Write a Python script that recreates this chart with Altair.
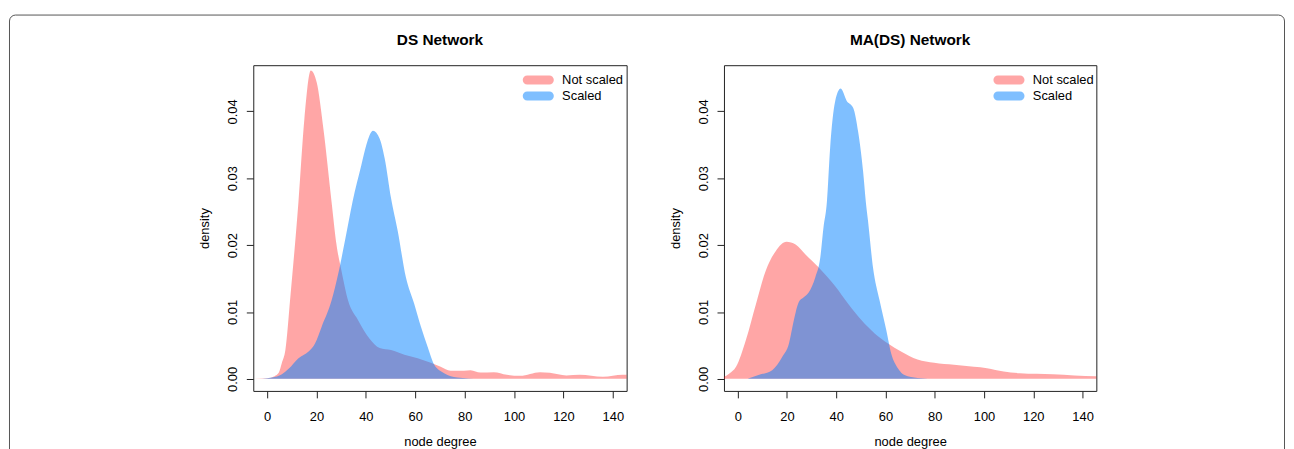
import altair as alt
import pandas as pd

# ---- data ----
series = ["Not scaled", "Scaled"]
titles = ["DS Network", "MA(DS) Network"]
x_ticks = [0, 20, 40, 60, 80, 100, 120, 140]
y_ticks = [0.0, 0.01, 0.02, 0.03, 0.04]

ds_not_x = [-8, 0, 3, 4.7, 6, 7.4, 9.4, 12.7, 15.1, 17.7, 20.1, 22.8, 26.1, 28.1, 30.1, 32.8, 36.8,
            41.5, 45.6, 50.2, 55.6, 61, 66.3, 70.3, 74.3, 79.7, 82.4, 86.4, 91.8, 97.1, 102.5,
            110.5, 114.5, 121.2, 126.6, 136, 144, 150]
ds_not_y = [0, 0.0001, 0.0004, 0.0009, 0.0024, 0.0043, 0.0122, 0.0265, 0.0389, 0.0461, 0.0443,
            0.0374, 0.0265, 0.0201, 0.0162, 0.0117, 0.0088, 0.0060, 0.0046, 0.0043, 0.0036,
            0.0031, 0.0024, 0.0018, 0.0012, 0.0012, 0.0013, 0.00094, 0.0010, 0.0006, 0.00045,
            0.0010, 0.0009, 0.0005, 0.0006, 0.0003, 0.0006, 0.0006]
ds_sc_x = [-2, 2, 6, 8.7, 12.7, 16.8, 19.4, 22.1, 26.1, 28.8, 31.5, 34.6, 38.2, 40.2, 42.9, 45.6,
           47.6, 50.2, 52.9, 56.2, 59.6, 62.3, 65, 67.7, 71.7, 77, 86]
ds_sc_y = [0, 0.0002, 0.0007, 0.0015, 0.0031, 0.0041, 0.0053, 0.0078, 0.0117, 0.0157, 0.0206,
           0.0265, 0.032, 0.035, 0.0371, 0.0359, 0.033, 0.027, 0.0221, 0.0152, 0.0112, 0.0078,
           0.0048, 0.0021, 0.00085, 0.0002, 0]

ma_not_x = [-8, -5.6, -3.4, -0.7, 3.3, 7.4, 11.4, 15.4, 19.8, 23.5, 27.5, 32.8, 39.5, 44.9, 50.2,
            55.6, 61, 66.3, 73, 79.8, 87.8, 95.9, 101.2, 108, 114.6, 128, 145.5, 150]
ma_not_y = [0.0001, 0.0003, 0.0008, 0.0018, 0.0058, 0.0112, 0.0162, 0.0191, 0.0205, 0.0201,
            0.0186, 0.0167, 0.0139, 0.0112, 0.0088, 0.0068, 0.0053, 0.0041, 0.0029, 0.0024,
            0.0021, 0.0018, 0.0016, 0.0011, 0.00085, 0.0007, 0.0004, 0.0004]
ma_sc_x = [4, 8.7, 14, 18.1, 20.8, 22.8, 24.8, 26.8, 28.8, 31.5, 33.5, 34.8, 36.2, 37.5, 39.5,
           41.8, 44.2, 46.9, 48.9, 50.9, 52.0, 52.9, 54.9, 57.6, 60.3, 62.3, 65, 69, 74.4, 80]
ma_sc_y = [0, 0.0006, 0.0013, 0.0033, 0.0053, 0.0088, 0.0115, 0.0122, 0.0129, 0.0152, 0.0181,
           0.0226, 0.0265, 0.0345, 0.0414, 0.0434, 0.0416, 0.0405, 0.0369, 0.031, 0.0265,
           0.0236, 0.0167, 0.0117, 0.0073, 0.0038, 0.0016, 0.0004, 0.0001, 0]

FONT = "Liberation Sans"
W, H = 376, 328
LEG_PATH = ("M -1.586,-0.65 L 1.586,-0.65 A 0.65,0.65 0 0 1 1.586,0.65 "
            "L -1.586,0.65 A 0.65,0.65 0 0 1 -1.586,-0.65 Z")


def make_df(nx, ny, sx, sy):
    a = pd.DataFrame({"x": nx, "y": ny, "series": series[0]})
    b = pd.DataFrame({"x": sx, "y": sy, "series": series[1]})
    return pd.concat([a, b], ignore_index=True)


def panel(df, title, width, with_frame=False):
    x_enc = alt.X("x:Q", scale=alt.Scale(domain=[-5.6, 145.6], nice=False, zero=False),
                  axis=alt.Axis(values=x_ticks, title="node degree", labelFlush=False,
                                labelOverlap=False, tickSize=7, labelPadding=13,
                                titlePadding=12))
    y_enc = alt.Y("y:Q", stack=None,
                  scale=alt.Scale(domain=[-0.0018, 0.0469], nice=False, zero=False),
                  axis=alt.Axis(values=y_ticks, format=".2f", title="density",
                                labelAngle=270, labelAlign="center",
                                labelBaseline="alphabetic", labelPadding=10, tickSize=7,
                                titlePadding=15, labelFlush=False, labelOverlap=False))
    area = alt.Chart(df).mark_area(clip=True, interpolate="monotone").encode(
        x=x_enc,
        y=y_enc,
        color=alt.Color("series:N",
                        scale=alt.Scale(domain=series,
                                        range=["rgba(255,0,0,0.35)", "rgba(0,128,255,0.5)"]),
                        legend=alt.Legend(title=None, orient="none", legendX=280, legendY=8,
                                          symbolType=LEG_PATH, symbolSize=196,
                                          symbolStrokeWidth=0, labelFont=FONT,
                                          labelFontSize=13, labelColor="black",
                                          labelOffset=17, rowPadding=2, padding=0)),
    )
    ttl = alt.Chart(pd.DataFrame({"t": [title]})).mark_text(
        font=FONT, fontSize=15.5, fontWeight="bold", align="center", baseline="middle",
        color="black"
    ).encode(x=alt.value(width / 2), y=alt.value(-25.5), text="t:N")
    layers = [area, ttl]
    if with_frame:
        frame = alt.Chart(pd.DataFrame({"f": [1]})).mark_rect(
            fillOpacity=0, stroke="#555", strokeWidth=1, cornerRadius=6
        ).encode(x=alt.value(-245.5), x2=alt.value(1038.5),
                 y=alt.value(-50.5), y2=alt.value(400))
        layers = [frame] + layers
    return alt.layer(*layers).properties(width=width, height=H)


left = panel(make_df(ds_not_x, ds_not_y, ds_sc_x, ds_sc_y), titles[0], W, with_frame=True)
right = panel(make_df(ma_not_x, ma_not_y, ma_sc_x, ma_sc_y), titles[1], 375)

chart = alt.hconcat(left, right, spacing=98, bounds="flush").resolve_scale(
    color="independent", x="independent", y="independent"
).resolve_legend(color="independent").properties(
    padding={"left": 0, "top": 4, "right": 0, "bottom": 0}
).configure_view(stroke="#222", strokeWidth=1).configure_axis(
    labelFont=FONT, titleFont=FONT, labelFontSize=13, titleFontSize=13,
    labelColor="black", titleColor="black", titleFontWeight="normal",
    grid=False, domain=False, tickColor="#222", tickWidth=1
)

chart.save("out.html", embed_options={"renderer": "svg", "actions": False})
